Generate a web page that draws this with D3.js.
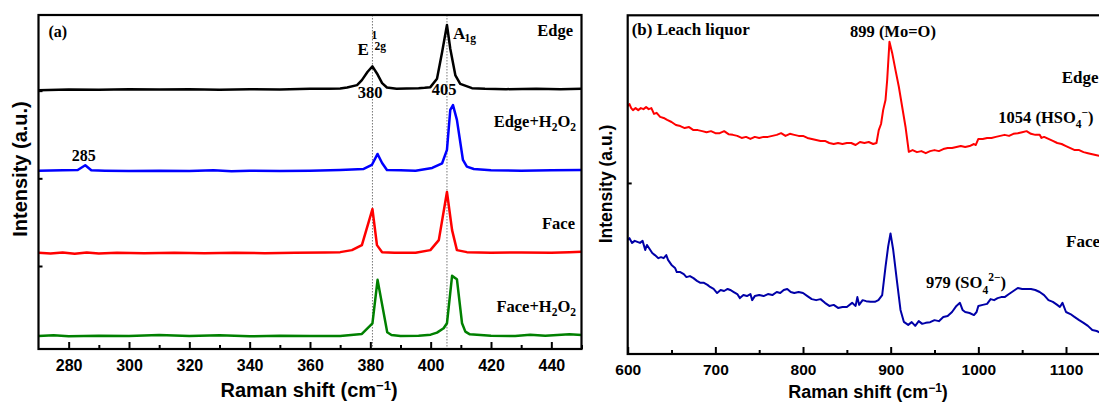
<!DOCTYPE html>
<html>
<head>
<meta charset="utf-8">
<script src="https://cdn.jsdelivr.net/npm/d3@7"></script>
<style>
  body { margin: 0; background: #fff; }
  svg text { font-family: "Liberation Serif", "Times New Roman", serif; font-weight: bold; fill: #000; }
  .axis text { font-family: "Liberation Sans", Arial, sans-serif; }
  .title { font-family: "Liberation Sans", Arial, sans-serif !important; }
</style>
</head>
<body>
<div id="chart"></div>
<script>
// ---------- data: panel (a), MoS2 spectra (stacked, a.u.) ----------
var edge = [[270,77.5],[280,77.7],[290,77.6],[300,77.8],[310,77.7],[320,77.8],[330,77.6],[340,77.8],[350,77.7],[360,77.9],
  [366,77.9],[370,78.0],[372.3,78.3],[375.6,79.0],[377.2,80.5],[379.1,83.0],[380.7,84.6],[382.2,82.5],[383.9,79.6],[385.5,78.3],
  [388.7,77.9],[392,78.0],[396,78.1],[398,78.2],[399.9,78.4],[402.1,80.9],[403.8,88.9],[405.4,97.0],[406.5,89.9],[408.2,81.9],
  [409.8,79.4],[413.7,78.1],[418,77.9],[425,77.8],[435,77.9],[443,77.8],[450,77.9]];

var edgeH2O2 = [[270,53.4],[278,53.5],[283,53.6],[285.5,55.0],[287.5,53.5],[292,53.4],[300,53.3],[310,53.4],[320,53.3],[328,53.5],
  [334,53.2],[340,53.4],[350,53.3],[360,53.4],[370,53.6],[377.8,53.9],[380.5,55.1],[382.4,58.4],[383.9,55.7],[385.5,53.6],
  [390,53.5],[395,53.4],[400.5,54.2],[403.8,55.6],[405.4,59.6],[406.5,71.6],[407.4,73.0],[408.7,68.6],[410.7,56.6],[412,54.6],
  [414.3,53.9],[420,53.5],[430,53.4],[440,53.5],[450,53.6]];

var face = [[270,28.8],[274,28.6],[278,28.9],[282,28.5],[286,28.9],[290,28.6],[296,28.8],[305,28.7],[315,28.8],[325,28.7],
  [335,28.8],[345,28.7],[355,28.8],[365,28.9],[370,29.0],[373.9,29.6],[377.2,31.1],[380.7,41.9],[382.2,31.1],[383.9,29.0],
  [388,28.8],[395,28.8],[399.9,29.6],[402.7,32.6],[405.4,47.0],[407.1,35.6],[408.7,29.6],[412,29.0],[420,28.8],[430,28.9],
  [440,28.8],[446,29.0],[450,29.1]];

var faceH2O2 = [[270,3.9],[275,4.1],[280,3.8],[290,4.0],[300,3.9],[310,4.2],[320,3.9],[330,4.1],[340,3.8],[350,4.0],[360,3.9],
  [370,3.9],[377.2,4.5],[380.7,7.7],[382.4,20.7],[385.6,5.0],[387,4.2],[390,3.9],[396,4.0],[400,4.3],[402.1,4.9],[404.3,6.2],
  [405.4,7.7],[407.1,21.9],[408.7,20.9],[410.4,7.7],[411.5,5.2],[413,4.4],[420,4.0],[428,3.9],[433,4.3],[438,4.0],[442,4.2],
  [446,4.4],[450,4.2]];

var modeLines = [380.7, 405.4];
var ticksA = [280, 300, 320, 340, 360, 380, 400, 420, 440];
var minorA = [290, 310, 330, 350, 370, 390, 410, 430, 450];
var yTicksA = [24.85, 51.1, 77.35];

// ---------- data: panel (b), leach liquor (a.u.) ----------
var liquorEdge = [[600,73.2],[602,73.8],[604,72.6],[606,72.0],[609,72.6],[612,72.0],[615,72.6],[618,72.3],[621,72.9],[624,72.3],
  [627,72.6],[630,70.9],[633,71.2],[637,70.0],[641,69.7],[645,69.1],[650,68.5],[655,67.6],[660,67.3],[665,66.7],[670,67.0],
  [675,66.1],[680,66.1],[685,65.8],[690,65.5],[695,65.8],[700,65.2],[705,65.2],[710,65.8],[715,64.9],[720,64.7],[725,64.4],
  [730,63.8],[735,64.1],[740,63.5],[745,64.1],[750,63.8],[755,64.1],[760,64.1],[765,64.4],[770,64.7],[775,65.2],[780,64.4],
  [785,65.0],[790,64.7],[795,64.4],[800,64.4],[805,63.8],[810,63.5],[815,63.2],[820,62.9],[825,62.9],[830,62.3],[835,62.0],
  [840,62.3],[845,62.0],[850,62.3],[855,62.3],[860,61.7],[865,62.6],[870,62.3],[875,62.6],[880,62.0],[883.8,62.3],[886.4,66.1],
  [889,67.9],[891.4,72.0],[894.1,75.0],[896,80.9],[898.6,92.2],[901.7,88.9],[905.5,83.8],[909.3,78.9],[913.1,73.0],[916.9,67.1],
  [920.7,59.7],[925,60.2],[930,59.6],[935,59.9],[940,59.3],[945,59.9],[950,60.2],[955,59.9],[960,60.5],[965,60.8],[970,60.8],
  [975,61.1],[980,61.4],[985,61.1],[990,61.4],[995,62.0],[997,61.7],[1000,63.5],[1005,63.5],[1010,63.8],[1015,63.8],[1020,64.1],
  [1025,64.4],[1030,64.7],[1035,64.4],[1040,65.0],[1045,65.2],[1050,65.5],[1055,65.8],[1060,65.0],[1065,64.7],[1070,64.7],
  [1072,63.8],[1075,64.1],[1080,63.5],[1085,62.9],[1090,62.3],[1095,62.0],[1100,61.4],[1105,60.8],[1110,60.2],[1115,60.2],
  [1120,59.6],[1125,59.3],[1130,59.0],[1135,58.7],[1140,58.4],[1150,57.9],[1160,57.3]];

var liquorFace = [[600,33.7],[602,34.2],[605,32.8],[608,33.4],[611,33.1],[614,32.8],[617,33.4],[620,30.7],[622,32.2],[625,31.0],
  [628,29.8],[631,29.2],[635,28.3],[638,28.6],[641,28.3],[644,29.2],[646,27.8],[650,26.3],[654,25.4],[656,24.2],[660,24.2],
  [664,23.6],[667,22.7],[671,23.0],[675,22.4],[679,21.6],[683,21.0],[687,21.0],[691,20.4],[694,19.8],[698,19.2],[702,18.0],
  [706,18.9],[710,18.6],[714,19.2],[717,18.9],[721,18.3],[725,17.7],[728,16.5],[732,17.4],[736,17.1],[740,17.7],[742,15.9],
  [745,17.1],[750,17.4],[755,17.1],[760,17.7],[765,17.4],[770,18.3],[774,18.0],[778,18.9],[782,19.2],[786,18.3],[790,18.0],
  [795,18.3],[800,18.0],[805,17.1],[810,16.2],[815,15.9],[820,16.2],[825,15.1],[830,14.2],[835,14.5],[840,13.6],[845,13.9],
  [850,13.9],[856,15.1],[860,14.2],[862,16.8],[864,14.5],[868,15.9],[872,15.6],[877,15.4],[882,15.4],[886,15.9],[890.3,17.4],
  [894.1,25.7],[897.1,31.7],[899.8,35.6],[902.9,30.7],[907.4,21.0],[911.2,13.0],[915,9.5],[920,8.6],[924,9.4],[928,8.3],
  [932,9.7],[936,8.9],[940,9.2],[945,9.4],[950,10.0],[955,9.7],[960,10.9],[965,11.2],[970,12.4],[975,14.2],[979,15.1],
  [982,13.0],[985,12.4],[990,12.1],[995,11.5],[998,12.4],[1000,14.2],[1005,14.5],[1010,14.8],[1014,16.2],[1018,15.9],
  [1022,16.5],[1026,16.8],[1030,16.8],[1035,17.7],[1040,18.6],[1045,19.5],[1050,19.2],[1055,19.2],[1060,19.2],[1065,18.9],
  [1070,18.3],[1075,17.4],[1080,15.9],[1085,15.4],[1090,14.5],[1093,13.9],[1096,15.1],[1100,12.4],[1105,11.8],[1110,10.9],
  [1115,10.0],[1120,9.2],[1125,8.3],[1130,7.1],[1135,6.8],[1140,6.2],[1150,5.3],[1160,4.7]];

var ticksB = [600, 700, 800, 900, 1000, 1100];
var minorB = [650, 750, 850, 950, 1050, 1150];
var yTicksB = [50.5];

// ---------- canvas ----------
var svg = d3.select("#chart").append("svg")
    .attr("width", 1099)
    .attr("height", 403);

// text with sub/superscripts: parts = [[text, shift(px, +down), size]]
function rich(g, x, y, parts, anchor) {
    var t = g.append("text").attr("x", x).attr("y", y).attr("text-anchor", anchor || "start");
    var cur = 0;
    parts.forEach(function(p) {
        t.append("tspan")
            .attr("dy", p[1] - cur)
            .attr("font-size", p[2])
            .text(p[0]);
        cur = p[1];
    });
    return t;
}

function drawAxes(g, x, y, major, minor, yTicks, pad, fontSize) {
    var h = y.range()[0];
    var ax = g.append("g").attr("class", "axis")
        .attr("transform", "translate(0," + h + ")")
        .call(d3.axisBottom(x).tickValues(major).tickFormat(d3.format("d"))
            .tickSizeInner(-7).tickSizeOuter(0).tickPadding(pad));
    ax.selectAll("text").attr("font-size", fontSize);
    g.append("g").attr("class", "axis")
        .attr("transform", "translate(0," + h + ")")
        .call(d3.axisBottom(x).tickValues(minor).tickSizeInner(-4).tickSizeOuter(0).tickFormat(""));
    g.append("g").attr("class", "axis")
        .attr("transform", "translate(" + x.range()[0] + ",0)")
        .call(d3.axisLeft(y).tickValues(yTicks).tickSizeInner(-4).tickSizeOuter(0).tickFormat(""));
    g.selectAll(".axis .domain").remove();
    g.selectAll(".axis line").attr("stroke", "#000").attr("stroke-width", 2);
    // frame
    g.append("rect")
        .attr("x", x.range()[0]).attr("y", y.range()[1])
        .attr("width", x.range()[1] - x.range()[0])
        .attr("height", y.range()[0] - y.range()[1])
        .attr("fill", "none").attr("stroke", "#000").attr("stroke-width", 2.2);
}

// ---------- panel (a) ----------
var xA = d3.scaleLinear().domain([270, 450]).range([38.5, 581.5]);
var yA = d3.scaleLinear().domain([0, 100]).range([349, 15]);
var gA = svg.append("g");

gA.selectAll(".mode").data(modeLines).enter().append("line")
    .attr("x1", function(d) { return xA(d); }).attr("x2", function(d) { return xA(d); })
    .attr("y1", yA(100)).attr("y2", yA(0))
    .attr("stroke", "#777").attr("stroke-width", 1).attr("stroke-dasharray", "1.5,1.5");

var lineA = d3.line().x(function(d) { return xA(d[0]); }).y(function(d) { return yA(d[1]); });
[[edge, "#000000"], [edgeH2O2, "#0000ff"], [face, "#ff0000"], [faceH2O2, "#008000"]].forEach(function(s) {
    gA.append("path").datum(s[0])
        .attr("d", lineA)
        .attr("fill", "none").attr("stroke", s[1])
        .attr("stroke-width", 2.5).attr("stroke-linejoin", "round");
});

drawAxes(gA, xA, yA, ticksA, minorA, yTicksA, 11, 16);

gA.append("text").attr("x", 48.5).attr("y", 37).attr("font-size", 16).text("(a)");
rich(gA, 573, 35.7, [["Edge", 0, 16.5]], "end");
rich(gA, 576, 126.7, [["Edge+H", 0, 16.5], ["2", 4, 11.5], ["O", 0, 16.5], ["2", 4, 11.5]], "end");
rich(gA, 575, 229, [["Face", 0, 16.5]], "end");
rich(gA, 576, 312.3, [["Face+H", 0, 16.5], ["2", 4, 11.5], ["O", 0, 16.5], ["2", 4, 11.5]], "end");
gA.append("text").attr("x", xA(285)).attr("y", 161).attr("text-anchor", "middle").attr("font-size", 16).text("285");
gA.append("text").attr("x", 370).attr("y", 98).attr("text-anchor", "middle").attr("font-size", 16.5).text("380");
gA.append("text").attr("x", 444).attr("y", 95.3).attr("text-anchor", "middle").attr("font-size", 16.5).text("405");
gA.append("text").attr("x", 357.5).attr("y", 54.7).attr("font-size", 17).text("E");
gA.append("text").attr("x", 371.5).attr("y", 38.7).attr("font-size", 11.5).text("1");
gA.append("text").attr("x", 374.5).attr("y", 50).attr("font-size", 11.5).text("2g");
gA.append("text").attr("x", 453).attr("y", 39.3).attr("font-size", 17).text("A");
gA.append("text").attr("x", 464.5).attr("y", 42).attr("font-size", 11.5).text("1g");

gA.append("text").attr("class", "title")
    .attr("transform", "translate(27,169) rotate(-90)")
    .attr("text-anchor", "middle").attr("font-size", 20).text("Intensity (a.u.)");
rich(gA, 309, 396.5, [["Raman shift (cm", 0, 20], ["\u22121", -7, 13], [")", 0, 20]], "middle").attr("class", "title");

// ---------- panel (b) ----------
var xB = d3.scaleLinear().domain([600, 1160]).range([627.7, 627.7 + 560 * 0.8766]);
var yB = d3.scaleLinear().domain([0, 100]).range([354, 15.3]);
var gB = svg.append("g");

var lineB = d3.line().x(function(d) { return xB(d[0]); }).y(function(d) { return yB(d[1]); });
[[liquorEdge, "#ff0000"], [liquorFace, "#0000a8"]].forEach(function(s) {
    gB.append("path").datum(s[0])
        .attr("d", lineB)
        .attr("fill", "none").attr("stroke", s[1])
        .attr("stroke-width", 2).attr("stroke-linejoin", "round");
});

drawAxes(gB, xB, yB, ticksB, minorB, yTicksB, 10, 15.5);

gB.append("text").attr("x", 631.7).attr("y", 35).attr("font-size", 17).text("(b) Leach liquor");
gB.append("text").attr("x", 850).attr("y", 37.3).attr("font-size", 16.5).text("899 (Mo=O)");
gB.append("text").attr("x", 1061.7).attr("y", 83.3).attr("font-size", 17).text("Edge");
rich(gB, 998.3, 123.3, [["1054 (HSO", 0, 16.5], ["4", 5, 11.5], ["\u2212", -7, 11.5], [")", 0, 16.5]]);
gB.append("text").attr("x", 1066).attr("y", 247.3).attr("font-size", 17).text("Face");
rich(gB, 926, 288.3, [["979 (SO", 0, 16.5], ["4", 5.5, 11.5], ["2\u2212", -7, 11.5], [")", 0, 16.5]]);

gB.append("text").attr("class", "title")
    .attr("transform", "translate(612,184) rotate(-90)")
    .attr("text-anchor", "middle").attr("font-size", 17.5).text("Intensity (a.u.)");
rich(gB, 868, 398, [["Raman shift (cm", 0, 18], ["\u22121", -6.5, 12], [")", 0, 18]], "middle").attr("class", "title");
</script>
</body>
</html>
